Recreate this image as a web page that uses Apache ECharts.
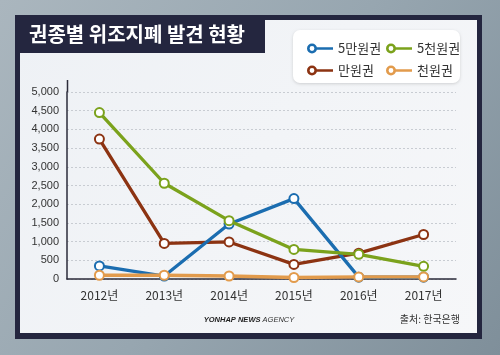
<!DOCTYPE html>
<html><head><meta charset="utf-8">
<script src="https://cdn.jsdelivr.net/npm/echarts@6/dist/echarts.min.js"></script>
<style>html,body{margin:0;padding:0;}#c{width:500px;height:355px;}</style>
</head><body><div id="c"></div>
<script>
const categories = ['2012년','2013년','2014년','2015년','2016년','2017년'];
const s50000 = [350, 80, 1470, 2150, 50, 50];
const s5000  = [4450, 2560, 1560, 790, 660, 340];
const s10000 = [3740, 950, 990, 390, 690, 1190];
const s1000  = [100, 100, 80, 40, 55, 55];
const yTicks = { min: 0, max: 5000, interval: 500 };

const FONT = '"Noto Sans CJK KR", "Noto Sans", sans-serif';
const colors = { b: '#1b6db0', g: '#7ba21c', r: '#8c3312', o: '#e29b4c' };
const icon = 'path://M0,5A5,5 0 1,1 10,5A5,5 0 1,1 0,5ZM2.6,5A2.4,2.4 0 1,0 7.4,5A2.4,2.4 0 1,0 2.6,5ZM9.5,3.7L26,3.7L26,6.3L9.5,6.3Z';

function mkSeries(name, data, color, z) {
  return {
    name, type: 'line', data, z,
    symbol: 'emptyCircle', symbolSize: 9,
    color,
    lineStyle: { width: 3.3, color },
    itemStyle: { color, borderWidth: 2.5 },
    emphasis: { disabled: true }
  };
}
function legendItem(name, color) {
  return { name, icon, itemStyle: { color, borderWidth: 0 } };
}

const chart = echarts.init(document.getElementById('c'));
chart.setOption({
  animation: false,
  backgroundColor: {
    type: 'linear', x: 0, y: 0, x2: 1, y2: 1,
    colorStops: [{ offset: 0, color: '#aab6be' }, { offset: 0.5, color: '#97a6b0' }, { offset: 1, color: '#7f8f9a' }]
  },
  graphic: [
    { type: 'rect', z: -10, shape: { x: 15, y: 15, width: 467, height: 324 }, style: { fill: '#24263f' } },
    { type: 'rect', z: -9, shape: { x: 20, y: 20, width: 457, height: 313 },
      style: { fill: { type: 'linear', x: 0, y: 0, x2: 1, y2: 1, colorStops: [{ offset: 0, color: '#eef1f5' }, { offset: 1, color: '#f6f7f9' }] } } },
    { type: 'rect', z: -8, shape: { x: 15, y: 15, width: 250, height: 38 }, style: { fill: '#24263f' } },
    { type: 'text', z: 10, style: { x: 29, y: 34, text: '권종별 위조지폐 발견 현황', fill: '#ffffff', font: 'bold 20px ' + FONT, verticalAlign: 'middle' } },
    { type: 'rect', z: -5, shape: { x: 293, y: 30, width: 167, height: 53, r: 7 },
      style: { fill: '#ffffff', shadowBlur: 3, shadowColor: 'rgba(0,0,0,0.15)', shadowOffsetY: 1 } },
    { type: 'line', z: 5, shape: { x1: 67.5, y1: 80, x2: 67.5, y2: 92 }, style: { stroke: '#2b2b3a', lineWidth: 1.5 } },
    { type: 'text', z: 10, style: { x: 249, y: 320, text: '{a|YONHAP NEWS}{b| AGENCY}', verticalAlign: 'middle', align: 'center',
      rich: { a: { font: 'italic bold 7.5px "Liberation Sans", sans-serif', fill: '#1e1e1e' }, b: { font: 'italic 7.5px "Liberation Sans", sans-serif', fill: '#333' } } } },
    { type: 'text', z: 10, style: { x: 460, y: 319, text: '출처: 한국은행', fill: '#333', font: '10px ' + FONT, align: 'right', verticalAlign: 'middle' } }
  ],
  legend: [
    { orient: 'vertical', left: 302, top: 37, itemWidth: 26, itemHeight: 10, itemGap: 9,
      textStyle: { fontFamily: FONT, fontSize: 13, color: '#333' }, selectedMode: false,
      data: [legendItem('5만원권', colors.b), legendItem('만원권', colors.r)] },
    { orient: 'vertical', left: 381, top: 37, itemWidth: 26, itemHeight: 10, itemGap: 9,
      textStyle: { fontFamily: FONT, fontSize: 13, color: '#333' }, selectedMode: false,
      data: [legendItem('5천원권', colors.g), legendItem('천원권', colors.o)] }
  ],
  grid: { left: 67, right: 44, top: 92, bottom: 76 },
  xAxis: {
    type: 'category', data: categories, boundaryGap: true,
    axisLine: { lineStyle: { color: '#2b2b3a', width: 1.5 } },
    axisTick: { show: false },
    axisLabel: { color: '#333', fontSize: 12, fontFamily: FONT, margin: 10 }
  },
  yAxis: {
    type: 'value', min: yTicks.min, max: yTicks.max, interval: yTicks.interval,
    axisLine: { show: true, lineStyle: { color: '#2b2b3a', width: 1.5 } },
    axisTick: { show: false },
    axisLabel: { color: '#333', fontSize: 11, fontFamily: '"Liberation Sans", Arial, sans-serif', margin: 8,
      formatter: v => v.toLocaleString('en-US') },
    splitLine: { lineStyle: { color: '#c8ccd2', type: [2, 2], width: 1 } }
  },
  series: [
    mkSeries('만원권', s10000, colors.r, 2),
    mkSeries('5만원권', s50000, colors.b, 3),
    mkSeries('5천원권', s5000, colors.g, 4),
    mkSeries('천원권', s1000, colors.o, 5)
  ]
});
</script></body></html>
